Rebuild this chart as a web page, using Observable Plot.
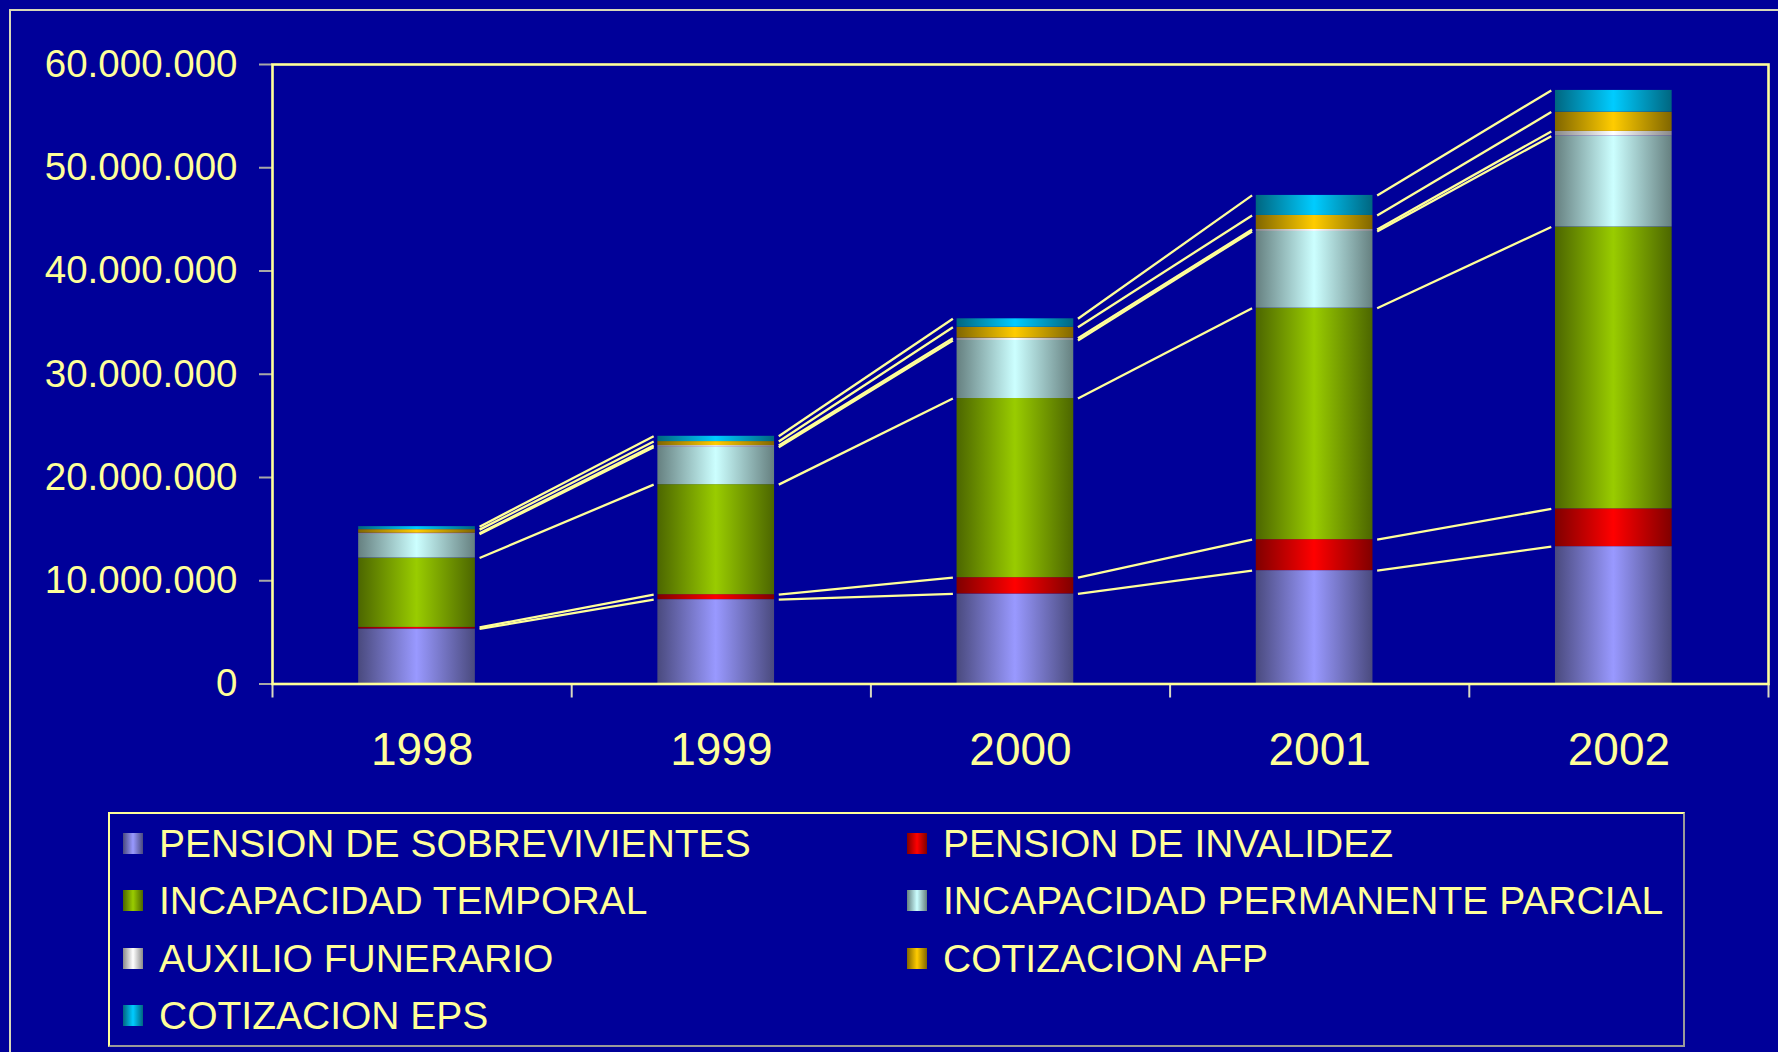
<!DOCTYPE html>
<html><head><meta charset="utf-8">
<script src="https://cdn.jsdelivr.net/npm/d3@7"></script>
<script src="https://cdn.jsdelivr.net/npm/@observablehq/plot@0.6"></script>
<style>
html,body{margin:0;padding:0;background:#000099;}
body{width:1778px;height:1052px;position:relative;overflow:hidden;font-family:"Liberation Sans",Arial,sans-serif;}
#outer{position:absolute;left:9px;top:9px;width:1800px;height:1100px;border-top:2px solid #d8d8b8;border-left:2px solid #d8d8b8;}
#chart{position:absolute;left:0;top:0;}
#legend{position:absolute;left:108px;top:812px;width:1573px;height:231px;border:2px solid;border-color:#FFFF99 #9a9a9a #9a9a9a #FFFF99;}
.item{position:absolute;height:44px;display:flex;align-items:center;color:#FFFF99;font-size:39px;white-space:nowrap;line-height:1;}
.sw{width:20px;height:21px;margin-right:16px;flex:none;}
</style></head><body>
<div id="outer"></div>
<div id="chart"></div>
<div id="legend"></div>
<script>
// ---- data ----
const years = ["1998", "1999", "2000", "2001", "2002"];
const seriesNames = [
  "PENSION DE SOBREVIVIENTES",
  "PENSION DE INVALIDEZ",
  "INCAPACIDAD TEMPORAL",
  "INCAPACIDAD PERMANENTE PARCIAL",
  "AUXILIO FUNERARIO",
  "COTIZACION AFP",
  "COTIZACION EPS"
];
const pensionSobrevivientes = [5330000, 8170000, 8720000, 10980000, 13300000];
const pensionInvalidez      = [150000, 480000, 1580000, 3000000, 3660000];
const incapacidadTemporal   = [6720000, 10660000, 17350000, 22420000, 27300000];
const incapacidadPermanente = [2300000, 3620000, 5620000, 7430000, 8800000];
const auxilioFunerario      = [100000, 160000, 220000, 190000, 460000];
const cotizacionAFP         = [350000, 390000, 1060000, 1360000, 1870000];
const cotizacionEPS         = [290000, 510000, 820000, 1940000, 2100000];
const yTicks = [0, 10000000, 20000000, 30000000, 40000000, 50000000, 60000000];

const seriesValues = [pensionSobrevivientes, pensionInvalidez, incapacidadTemporal,
  incapacidadPermanente, auxilioFunerario, cotizacionAFP, cotizacionEPS];
const brightColors = ["#9999FF", "#FF0000", "#99CC00", "#CCFFFF", "#FFFFFF", "#FFCC00", "#00CCFF"];
const darkColors   = ["#4a4a7e", "#800000", "#4c6600", "#668080", "#8a8a8a", "#806600", "#006680"];

// ---- layout constants ----
const W = 1778, H = 800;
const barLeft = 0.212, barRight = 0.178, gap = 0.014;

// stacked rows
const stacks = seriesValues.map((vals, k) => vals.map((v, i) => {
  let base = 0;
  for (let j = 0; j < k; j++) base += seriesValues[j][i];
  return {i, y1: base, y2: base + v, k};
}));

const fmt = d3.formatLocale({decimal: ",", thousands: ".", grouping: [3], currency: ["", ""]}).format(",d");

function defsMark() {
  const ns = "http://www.w3.org/2000/svg";
  const defs = document.createElementNS(ns, "defs");
  brightColors.forEach((c, k) => {
    const g = document.createElementNS(ns, "linearGradient");
    g.setAttribute("id", "grad" + k);
    g.setAttribute("x1", "0"); g.setAttribute("x2", "1");
    g.setAttribute("y1", "0"); g.setAttribute("y2", "0");
    [[0, darkColors[k]], [0.5, c], [1, darkColors[k]]].forEach(([o, col]) => {
      const s = document.createElementNS(ns, "stop");
      s.setAttribute("offset", o);
      s.setAttribute("stop-color", col);
      g.appendChild(s);
    });
    defs.appendChild(g);
  });
  return defs;
}

const marks = [defsMark];
stacks.forEach((rows, k) => {
  marks.push(Plot.rect(rows, {
    x1: d => d.i - barLeft, x2: d => d.i + barRight,
    y1: "y1", y2: "y2", fill: `url(#grad${k})`
  }));
});
stacks.forEach((rows) => {
  marks.push(Plot.link(rows.slice(0, -1), {
    x1: d => d.i + barRight + gap, y1: "y2",
    x2: d => d.i + 1 - barLeft - gap, y2: d => rows[d.i + 1].y2,
    stroke: "#FFFF99", strokeWidth: 2.3
  }));
});
marks.push(
  Plot.axisY({ticks: yTicks, tickFormat: fmt, tickSize: 13, tickPadding: 22, fontSize: 38.5,
    stroke: "#a8a8a8", strokeWidth: 2, fill: "#FFFF99"}),
  Plot.axisX({ticks: d3.range(-0.5, years.length, 1), tickFormat: () => "", tickSize: 14,
    stroke: "#d8d8c0", strokeWidth: 2}),
  Plot.axisX({ticks: d3.range(years.length), tickFormat: i => years[i], tickSize: 0,
    tickPadding: 48, fontSize: 46, fill: "#FFFF99"}),
  Plot.frame({stroke: "#FFFF99", strokeWidth: 2.6})
);

const chart = Plot.plot({
  width: W, height: H,
  marginLeft: 272, marginRight: 10, marginTop: 64, marginBottom: 116.5,
  x: {domain: [-0.5, years.length - 0.5]},
  y: {domain: [0, 60000000]},
  style: {background: "transparent", color: "#FFFF99", fontFamily: "'Liberation Sans', Arial, sans-serif"},
  marks
});
document.getElementById("chart").appendChild(chart);

// ---- legend ----
const legend = document.getElementById("legend");
const colX = [13, 797];
const rowY = [29, 86.5, 144, 201.5];
seriesNames.forEach((name, k) => {
  const col = k % 2, row = Math.floor(k / 2);
  const item = document.createElement("div");
  item.className = "item";
  item.style.left = colX[col] + "px";
  item.style.top = (rowY[row] - 22) + "px";
  const sw = document.createElement("div");
  sw.className = "sw";
  sw.style.background = `linear-gradient(to right, ${darkColors[k]}, ${brightColors[k]}, ${darkColors[k]})`;
  const tx = document.createElement("span");
  tx.textContent = name;
  item.appendChild(sw); item.appendChild(tx);
  legend.appendChild(item);
});
</script>
</body></html>
